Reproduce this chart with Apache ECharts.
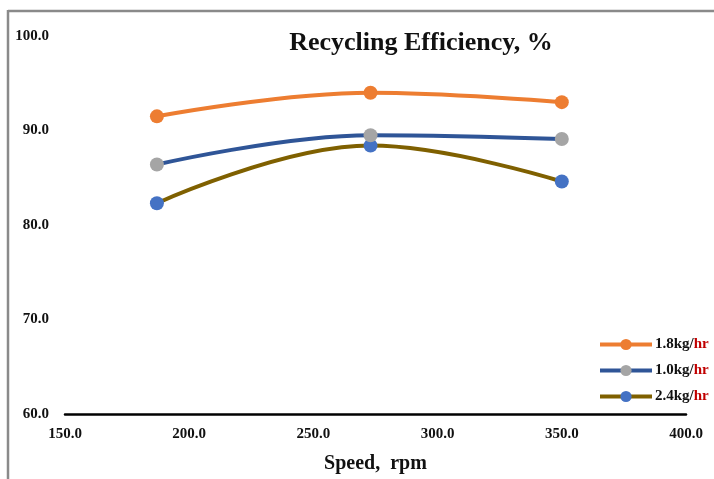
<!DOCTYPE html>
<html>
<head>
<meta charset="utf-8">
<script src="https://cdn.jsdelivr.net/npm/echarts@6/dist/echarts.min.js"></script>
<style>
html,body{margin:0;padding:0;background:#fff;}
#chart{width:714px;height:479px;}
</style>
</head>
<body>
<div id="chart"></div>
<script>
// Data
const speeds = [187, 273, 350];
const seriesNames = ['1.8kg/hr', '1.0kg/hr', '2.4kg/hr'];
const eff18 = [91.5, 94.0, 93.0];
const eff10 = [86.4, 89.5, 89.1];
const eff24 = [82.3, 88.4, 84.6];
const xTicks = [150, 200, 250, 300, 350, 400];
const yTicks = [60, 70, 80, 90, 100];

const FONT = '"Liberation Serif", "Times New Roman", serif';
const lineColors = ['#ED7D31', '#2F5597', '#7F6000'];
const markerColors = ['#ED7D31', '#A5A5A5', '#4472C4'];
const values = [eff18, eff10, eff24];

const chart = echarts.init(document.getElementById('chart'), null, {renderer: 'canvas'});

const series = seriesNames.map((name, i) => ({
  name: name,
  type: 'line',
  smooth: 0.4,
  data: speeds.map((s, j) => [s, values[i][j]]),
  symbol: 'circle',
  symbolSize: 14,
  lineStyle: {color: lineColors[i], width: 4},
  itemStyle: {color: markerColors[i], borderWidth: 0},
  z: 3 - i
}));

chart.setOption({
  animation: false,
  backgroundColor: '#fff',
  title: {
    text: 'Recycling Efficiency, %',
    left: 416,
    textAlign: 'center',
    top: 25,
    textStyle: {fontFamily: FONT, fontWeight: 'bold', fontSize: 26, color: '#111'}
  },
  legend: {
    orient: 'vertical',
    left: 593,
    top: 332,
    itemWidth: 52,
    itemHeight: 14,
    itemGap: 11,
    data: seriesNames,
    lineStyle: {width: 4},
    formatter: function (n) {
      const idx = n.lastIndexOf('/');
      return '{a|' + n.slice(0, idx + 1) + '}{b|' + n.slice(idx + 1) + '}';
    },
    textStyle: {
      fontFamily: FONT, fontWeight: 'bold', fontSize: 15, color: '#111', padding: [0, 0, 0, -2],
      rich: {
        a: {fontFamily: FONT, fontWeight: 'bold', fontSize: 15, color: '#111'},
        b: {fontFamily: FONT, fontWeight: 'bold', fontSize: 15, color: '#C00000'}
      }
    }
  },
  grid: {left: 65, right: 28, top: 36, bottom: 65, containLabel: false, outerBoundsMode: 'none'},
  xAxis: {
    type: 'value',
    min: xTicks[0],
    max: xTicks[xTicks.length - 1],
    interval: 50,
    name: 'Speed,  rpm',
    nameLocation: 'middle',
    nameGap: 40,
    nameTextStyle: {fontFamily: FONT, fontWeight: 'bold', fontSize: 20, color: '#111'},
    axisLine: {show: true, lineStyle: {color: '#000', width: 2.5}},
    axisTick: {show: false},
    splitLine: {show: false},
    axisLabel: {
      fontFamily: FONT, fontWeight: 'bold', fontSize: 15, color: '#111', margin: 13,
      formatter: v => v.toFixed(1)
    }
  },
  yAxis: {
    type: 'value',
    min: yTicks[0],
    max: yTicks[yTicks.length - 1],
    interval: 10,
    axisLine: {show: false},
    axisTick: {show: false},
    splitLine: {show: false},
    axisLabel: {
      fontFamily: FONT, fontWeight: 'bold', fontSize: 15, color: '#111', margin: 16,
      formatter: v => v.toFixed(1)
    }
  },
  graphic: [
    {type: 'line', shape: {x1: 8, y1: 11, x2: 714, y2: 11}, style: {stroke: '#8a8a8a', lineWidth: 2.5}},
    {type: 'line', shape: {x1: 8, y1: 10, x2: 8, y2: 479}, style: {stroke: '#8a8a8a', lineWidth: 2.5}}
  ],
  series: series
});
</script>
</body>
</html>
